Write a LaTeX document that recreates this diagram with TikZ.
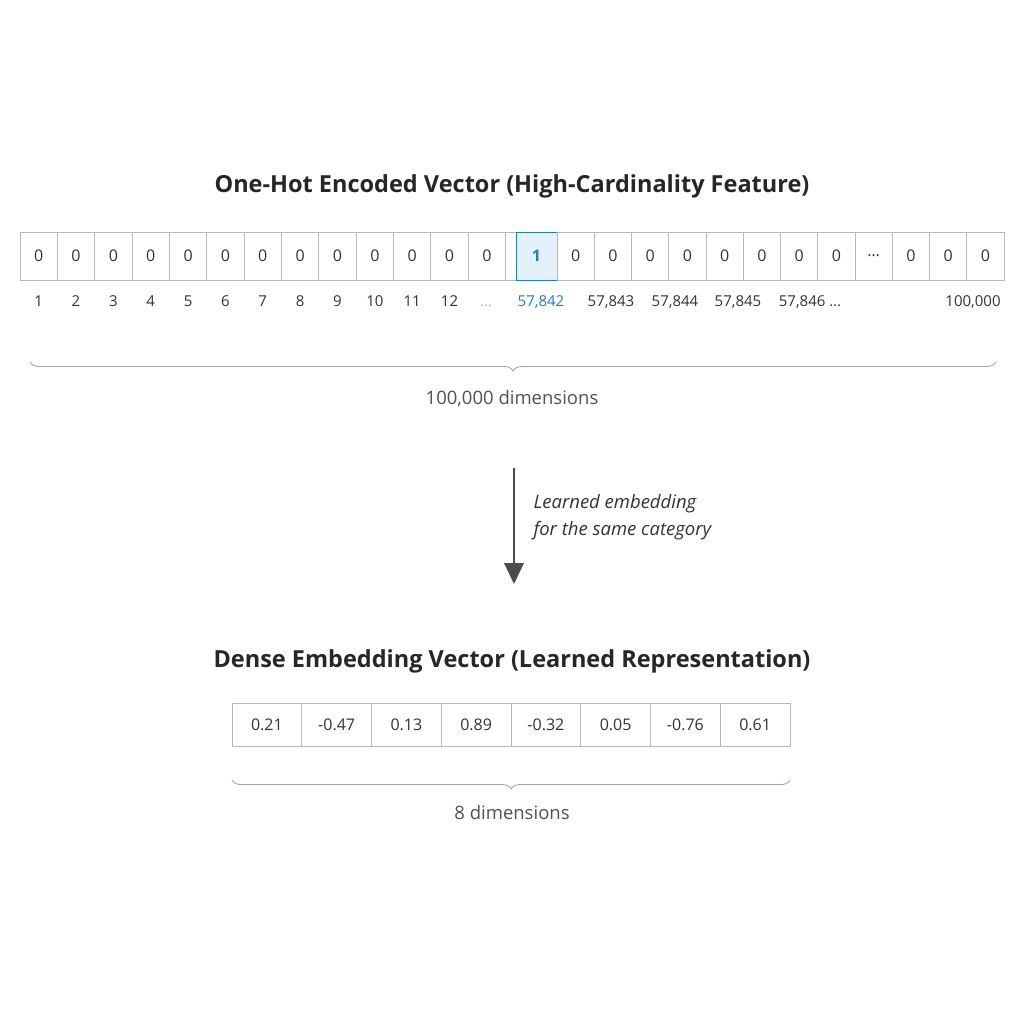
\documentclass[tikz,border=0pt]{standalone}
\usepackage{fontspec}
\setmainfont{Open Sans}
\usetikzlibrary{decorations.pathreplacing}
\definecolor{gridc}{HTML}{B8B8B8}
\definecolor{txt}{HTML}{333333}
\definecolor{blu}{HTML}{1E7FC8}
\definecolor{blufill}{HTML}{E4F0FA}
\begin{document}
\begin{tikzpicture}[x=1pt,y=-1pt,
  cell/.style={draw=gridc,line width=0.9pt,minimum height=48pt,inner sep=0pt,font=\fontsize{16}{19}\selectfont,text=txt},
  dcell/.style={draw=gridc,line width=0.9pt,minimum height=43pt,minimum width=69.75pt,inner sep=0pt,font=\fontsize{16}{19}\selectfont,text=txt},
  idx/.style={font=\fontsize{15}{18}\selectfont,text=txt,text height=11pt,text depth=2pt},
  ttl/.style={font=\bfseries\fontsize{23.5}{28}\selectfont,text=black!85},
  brc/.style={draw=gray!70,line width=0.9pt,decorate,decoration={brace,amplitude=9pt}},
  dim/.style={font=\fontsize{18.5}{22}\selectfont,text=txt!85}]
\useasboundingbox[fill=white] (0,0) rectangle (1024,1024);
\node[ttl] (t1) at (512,186) {One-Hot Encoded Vector (High-Cardinality Feature)};
\foreach \i in {1,...,13}{
  \node[cell,minimum width=37.4pt] (c\i) at ({20+37.35*(\i-0.5)},256) {0};
}
\node[cell,minimum width=11pt] (gap) at (510.5,256) {};
\node[cell,draw=blu,fill=blufill,minimum width=41pt,text=blu,font=\bfseries\fontsize{16}{19}\selectfont] (one) at (536.5,256) {1};
\foreach \j/\t in {0/0,1/0,2/0,3/0,4/0,5/0,6/0,7/0,8/{\dots},9/0,10/0,11/0}{
  \node[cell,minimum width=37.25pt] (d\j) at ({557+37.25*(\j+0.5)},256) {\t};
}
\foreach \i in {1,...,12}{
  \node[idx] (l\i) at ({20+37.35*(\i-0.5)},302) {\i};
}
\node[idx,text=gray!60] (l13) at (486,302) {\dots};
\node[idx,text=blu] (lo) at (541,302) {57,842};
\node[idx] (m3) at (611,302) {57,843};
\node[idx] (m4) at (675,302) {57,844};
\node[idx] (m5) at (738,302) {57,845};
\node[idx] (m6) at (810,302) {57,846 \dots};
\node[idx] (mend) at (973,302) {100,000};
\coordinate (b1r) at (996,362);
\coordinate (b1l) at (30,362);
\draw[brc] (b1r) -- (b1l);
\node[dim] (dim1) at (512,399) {100,000 dimensions};
\coordinate (as) at (514,468);
\coordinate (ae) at (514,584);
\draw[line width=2pt,draw=black!70] (as) -- (514,566);
\fill[black!70] (504,563) -- (524,563) -- (ae) -- cycle;
\node[anchor=west,align=left,font=\itshape\fontsize{18.5}{27}\selectfont,text=txt] (lab) at (530,517) {Learned embedding\\for the same category};
\node[ttl] (t2) at (512,661) {Dense Embedding Vector (Learned Representation)};
\foreach \v [count=\k] in {0.21,-0.47,0.13,0.89,-0.32,0.05,-0.76,0.61}{
  \node[dcell] (e\k) at ({232+69.75*(\k-0.5)},725) {\v};
}
\coordinate (b2r) at (790,780);
\coordinate (b2l) at (232,780);
\draw[brc] (b2r) -- (b2l);
\node[dim] (dim2) at (512,813) {8 dimensions};
\end{tikzpicture}
\end{document}
